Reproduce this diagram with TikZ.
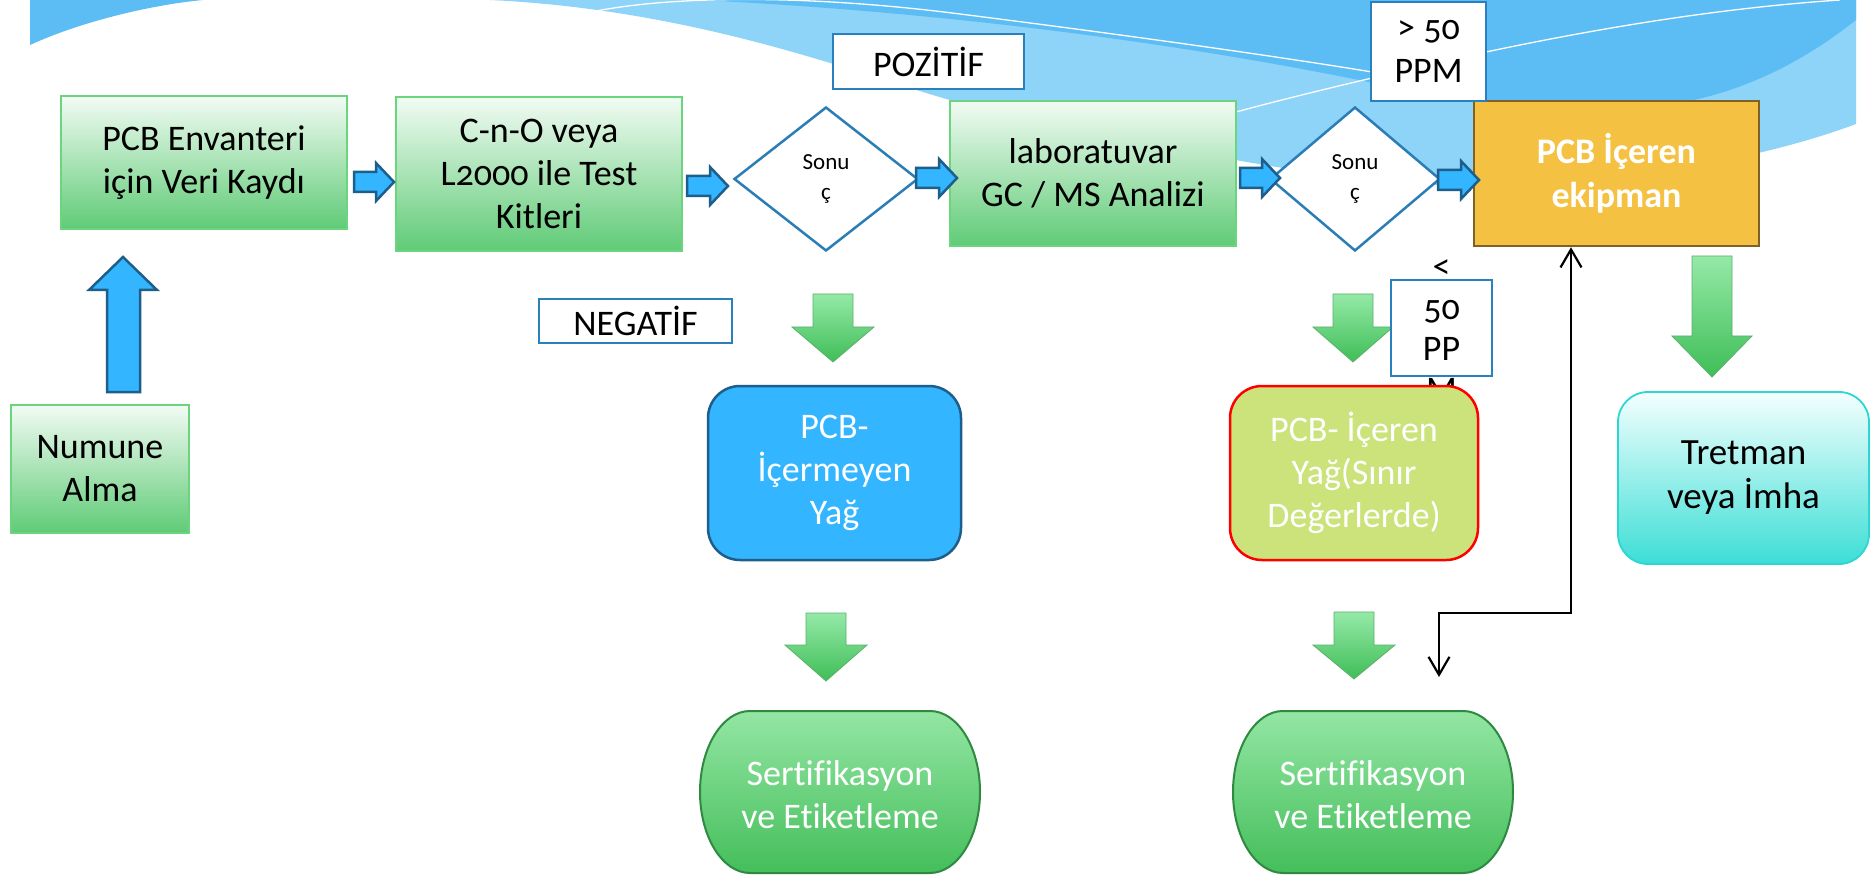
\documentclass[tikz,border=0pt]{standalone}
\usepackage{fontspec}
\setmainfont{Carlito}[Numbers=OldStyle, Ligatures=NoCommon]
\usetikzlibrary{shapes.geometric,arrows.meta}
\definecolor{bgmid}{HTML}{5CBDF5}
\definecolor{bglight}{HTML}{8ED3F8}
\definecolor{grnTop}{HTML}{F2FBF4}
\definecolor{grnBot}{HTML}{5FCB76}
\definecolor{grnDraw}{HTML}{6AD47F}
\definecolor{blueFill}{HTML}{33B5FF}
\definecolor{blueDraw}{HTML}{1E5E8A}
\definecolor{diaDraw}{HTML}{2A7EB5}
\definecolor{lblDraw}{HTML}{2A80BC}
\definecolor{orFill}{HTML}{F4C142}
\definecolor{orDraw}{HTML}{7E6123}
\definecolor{ygFill}{HTML}{CBE37A}
\definecolor{trTop}{HTML}{F4FFFE}
\definecolor{trBot}{HTML}{3CDED6}
\definecolor{trDraw}{HTML}{2CD6D2}
\definecolor{seTop}{HTML}{93E6A3}
\definecolor{seBot}{HTML}{45BE5B}
\definecolor{seDraw}{HTML}{2E8A40}
\definecolor{gaTop}{HTML}{95E9A7}
\definecolor{gaBot}{HTML}{3FBE57}
\definecolor{gaDraw}{HTML}{5DAF6D}
\newcommand\RArr[3]{\path[barr] (#1,#3-10) -- (#2-18,#3-10) -- (#2-18,#3-19) -- (#2,#3) -- (#2-18,#3+19) -- (#2-18,#3+10) -- (#1,#3+10) -- cycle;}
\newcommand\DArr[6]{\path[garr] (#1-#5,#2) -- (#1+#5,#2) -- (#1+#5,#3) -- (#1+#6,#3) -- (#1,#4) -- (#1-#6,#3) -- (#1-#5,#3) -- cycle;}
\newcommand\Barrel[2]{\path[seshape] (#1-90,#2-81) -- (#1+90,#2-81) .. controls (#1+117.6,#2-81) and (#1+140,#2-44.7) .. (#1+140,#2) .. controls (#1+140,#2+44.7) and (#1+117.6,#2+81) .. (#1+90,#2+81) -- (#1-90,#2+81) .. controls (#1-117.6,#2+81) and (#1-140,#2+44.7) .. (#1-140,#2) .. controls (#1-140,#2-44.7) and (#1-117.6,#2-81) .. (#1-90,#2-81) -- cycle;}
\begin{document}
\begin{tikzpicture}[x=1pt,y=-1pt,
  fs/.style={font=\fontsize{36}{43}\selectfont},
  gbox/.style={fs, draw=grnDraw, line width=1.5pt, top color=grnTop, bottom color=grnBot, align=center, inner sep=0pt},
  dia/.style={diamond, draw=diaDraw, line width=2.5pt, fill=white, align=center, inner sep=0pt, font=\fontsize{23}{30}\selectfont},
  lbl/.style={fs, draw=lblDraw, line width=2.5pt, fill=white, align=center, inner sep=0pt},
  barr/.style={fill=blueFill, draw=blueDraw, line width=2.5pt, line join=miter},
  garr/.style={top color=gaTop, bottom color=gaBot, draw=gaDraw, line width=0.8pt},
  seshape/.style={top color=seTop, bottom color=seBot, draw=seDraw, line width=2pt},
  rbox/.style={fs, rounded corners=32pt, line width=2.5pt, align=center, inner sep=0pt, text=white},
  conn/.style={line width=2.2pt, {Straight Barb[length=18pt,width=21pt]}-{Straight Barb[length=18pt,width=21pt]}},
  wline/.style={white, line width=1.3pt}
]
\useasboundingbox (0,0) rectangle (1872,877);
\fill[white] (0,0) rectangle (1872,877);
% background waves
\fill[bgmid] (30,0) -- (203,0) .. controls (150,5) and (80,22) .. (30,45) -- cycle;
\fill[bglight] (490,0) -- (1856,0) -- (1856,124) .. controls (1760,160) and (1600,190) .. (1440,185) .. controls (1300,178) and (1150,145) .. (950,100) .. controls (860,75) and (700,10) .. (490,0) -- cycle;
\fill[bgmid] (700,0) -- (1856,0) -- (1856,20) .. controls (1780,80) and (1700,110) .. (1600,110) -- (1430,95) .. controls (1250,55) and (1000,15) .. (700,0) -- cycle;
\draw[wline] (591,12) .. controls (680,-6) and (820,-4) .. (960,14) .. controls (1150,38) and (1300,60) .. (1372,72);
\draw[wline] (1236,112) .. controls (1280,100) and (1330,88) .. (1372,78);
\draw[wline] (1486,52) .. controls (1600,28) and (1720,8) .. (1840,0);

% main row
\node[gbox, minimum width=286, minimum height=133] (A) at (204,162.5) {PCB Envanteri\\için Veri Kaydı};
\node[gbox, minimum width=286, minimum height=154] (B) at (539,174) {C-n-O veya\\L2000 ile Test\\Kitleri};
\node[dia, minimum width=184, minimum height=144] (D1) at (826,179) {Sonu\\ç};
\node[gbox, minimum width=286, minimum height=145] (Lab) at (1093,173.5) {laboratuvar\\GC / MS Analizi};
\node[dia, minimum width=170, minimum height=144] (D2) at (1355,179) {Sonu\\ç};
\node[fs, font=\fontsize{36}{44}\selectfont\bfseries, draw=orDraw, line width=2.5pt, fill=orFill, text=white, align=center, inner sep=0pt, minimum width=285, minimum height=145] (PCB) at (1616.5,173.5) {PCB İçeren\\ekipman};

\node[lbl, minimum width=191, minimum height=55] (POZ) at (928.5,61.5) {POZİTİF};
\node[lbl, minimum width=115, minimum height=99] (G50) at (1428.5,51.5) {> 50\\PPM};
\node[lbl, minimum width=193, minimum height=44] (NEG) at (635.5,321) {NEGATİF};

% blue block arrows
\RArr{354}{394}{182}
\RArr{687}{728}{186}
\RArr{916}{957}{178}
\RArr{1240}{1280}{178}
\RArr{1438}{1479}{180}
\path[barr] (107,392) -- (140,392) -- (140,290) -- (157,290) -- (123,257) -- (89,290) -- (107,290) -- cycle;

\node[gbox, minimum width=178, minimum height=128] (N) at (100,469) {Numune\\Alma};

% green down arrows
\DArr{833}{294}{327}{362}{20}{41}
\DArr{1353}{294}{327}{362}{20}{40}
\DArr{826}{613}{645}{681}{20}{41}
\DArr{1354}{612}{645}{679}{20}{41}
\DArr{1712}{256}{336}{377}{20}{40}

% < 50 PPM label (text overflows box)
\node[lbl, minimum width=101, minimum height=96] (L50) at (1441.5,328) {};
\node[font=\fontsize{36}{41}\selectfont, align=center, inner sep=0pt] (L50t) at (1441.5,331) {<\\50\\PP\\M};

% second row
\node[rbox, draw=blueDraw, fill=blueFill, minimum width=253, minimum height=174] (BX) at (834.5,473) {PCB-\\İçermeyen\\Yağ};
\node[rbox, draw=red, fill=ygFill, minimum width=248, minimum height=174] (YX) at (1354,473) {PCB- İçeren\\Yağ(Sınır\\Değerlerde)};
\node[rbox, rounded corners=30pt, draw=trDraw, line width=1.8pt, top color=trTop, bottom color=trBot, text=black, font=\fontsize{37}{44}\selectfont, minimum width=251, minimum height=172] (TR) at (1743.5,478) {Tretman\\veya İmha};

% certification shapes
\Barrel{840}{792}
\node[fs, text=white, align=center, inner sep=0pt] (SL) at (840,795) {Sertifikasyon\\ve Etiketleme};
\Barrel{1373}{792}
\node[fs, text=white, align=center, inner sep=0pt] (SR) at (1373,795) {Sertifikasyon\\ve Etiketleme};

% black connector
\coordinate (free) at (1439,677);
\draw[conn] (free) -- (1439,613) -| ([xshift=-45.5pt]PCB.south);
\end{tikzpicture}
\end{document}
